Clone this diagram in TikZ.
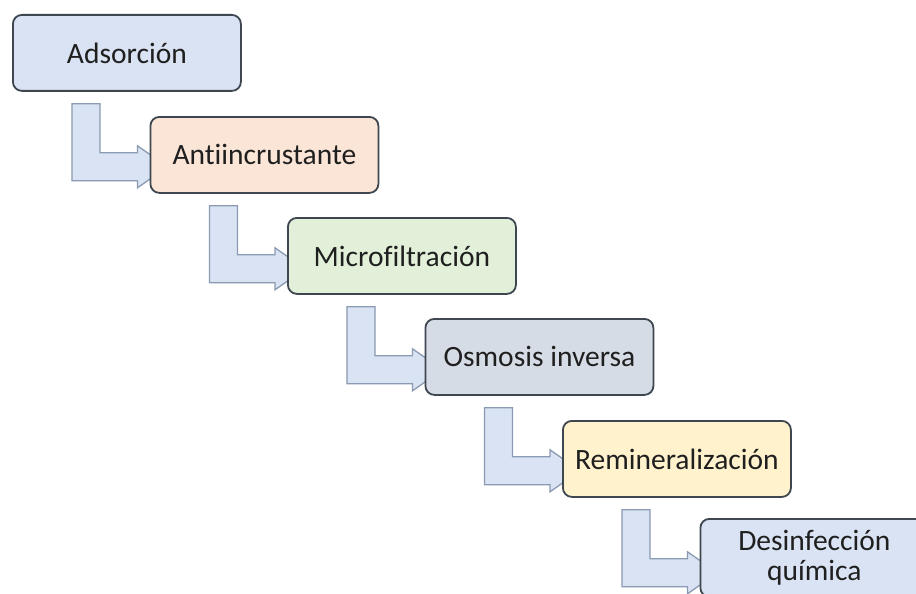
\documentclass[tikz,border=0pt]{standalone}
\usepackage{fontspec}
\setmainfont[Ligatures={NoCommon}]{Carlito}
\usetikzlibrary{calc}
\definecolor{cblue}{HTML}{DAE3F3}
\definecolor{cpeach}{HTML}{FBE5D6}
\definecolor{cgreen}{HTML}{E2F0D9}
\definecolor{cgray}{HTML}{D6DCE5}
\definecolor{cyellow}{HTML}{FFF2CC}
\definecolor{cborder}{HTML}{3E4650}
\definecolor{aborder}{HTML}{8A9AB2}
\definecolor{afill}{HTML}{DAE3F3}
\tikzset{
  stepbox/.style={draw=cborder, line width=1.8pt, rounded corners=9pt,
    minimum width=228pt, minimum height=76pt, inner sep=0pt, anchor=north west,
    align=center, font=\fontsize{29.5}{30}\selectfont, text=black!88},
  flowarrow/.style={draw=aborder, fill=afill, line width=1.3pt, line join=miter}
}
\newcommand\bentarrow[2]{%
  \draw[flowarrow] let \p1=(#1.south west), \p2=(#2.west) in
    (\x1+60pt,\y1-12pt) -- (\x1+88pt,\y1-12pt) -- (\x1+88pt,\y1-61pt)
    -- (\x2-12pt,\y1-61pt) -- (\x2-12pt,\y1-54pt) -- (\x2+18pt,\y1-75pt)
    -- (\x2-12pt,\y1-96pt) -- (\x2-12pt,\y1-89pt) -- (\x1+60pt,\y1-89pt) -- cycle;}
\begin{document}
\begin{tikzpicture}[x=1pt,y=-1pt]
\useasboundingbox (0,0) rectangle (916,594);
\clip (0,0) rectangle (916,594);
\fill[white] (0,0) rectangle (916,594);
% invisible frames first, so the arrows can refer to them
\path
  (12,14)     node[stepbox, draw=none] (a) {\phantom{X}}
  (149.5,116) node[stepbox, draw=none] (b) {\phantom{X}}
  (287,217)   node[stepbox, draw=none] (c) {\phantom{X}}
  (424.5,318) node[stepbox, draw=none] (d) {\phantom{X}}
  (562,420)   node[stepbox, draw=none] (e) {\phantom{X}}
  (699.5,518) node[stepbox, draw=none, minimum height=78pt] (f) {\phantom{X}};
\bentarrow{a}{b}
\bentarrow{b}{c}
\bentarrow{c}{d}
\bentarrow{d}{e}
\bentarrow{e}{f}
\node[stepbox, fill=cblue]   (A) at (12,14)     {Adsorción};
\node[stepbox, fill=cpeach]  (B) at (149.5,116) {Antiincrustante};
\node[stepbox, fill=cgreen]  (C) at (287,217)   {Microfiltración};
\node[stepbox, fill=cgray]   (D) at (424.5,318) {Osmosis inversa};
\node[stepbox, fill=cyellow] (E) at (562,420)   {Remineralización};
\node[stepbox, fill=cblue, minimum height=78pt] (F) at (699.5,518) {Desinfección\\química};
\end{tikzpicture}
\end{document}
